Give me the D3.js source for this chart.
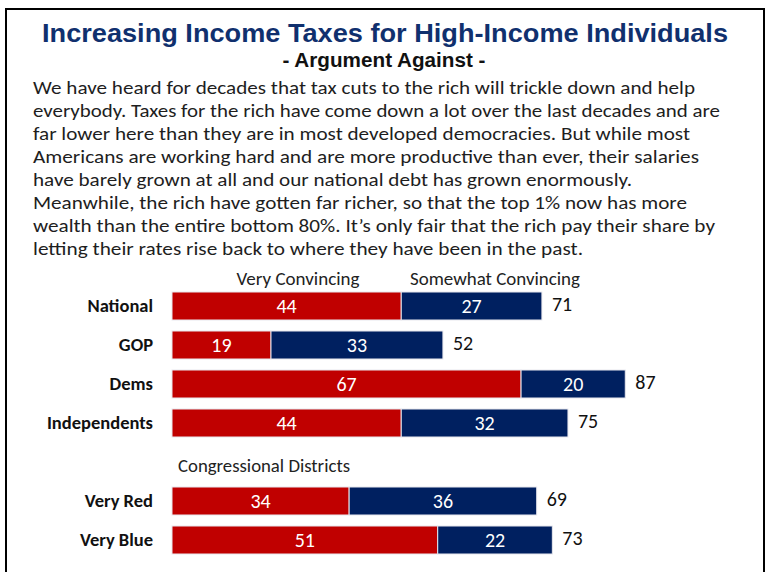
<!DOCTYPE html>
<html>
<head>
<meta charset="utf-8">
<script src="https://cdn.jsdelivr.net/npm/d3@7"></script>
<style>
  html, body { margin: 0; padding: 0; background: #fff; }
  svg { display: block; }
</style>
</head>
<body>
<script>
// Survey results: share finding the argument convincing
const groups = ["National", "GOP", "Dems", "Independents", "Very Red", "Very Blue"];
const veryConvincing = [44, 19, 67, 44, 34, 51];
const somewhatConvincing = [27, 33, 20, 32, 36, 22];
const totals = [71, 52, 87, 75, 69, 73];
const seriesNames = ["Very Convincing", "Somewhat Convincing"];
const sectionLabel = "Congressional Districts";

const titleText = "Increasing Income Taxes for High-Income Individuals";
const subtitleText = "- Argument Against -";
const bodyLines = [
  "We have heard for decades that tax cuts to the rich will trickle down and help",
  "everybody. Taxes for the rich have come down a lot over the last decades and are",
  "far lower here than they are in most developed democracies. But while most",
  "Americans are working hard and are more productive than ever, their salaries",
  "have barely grown at all and our national debt has grown enormously.",
  "Meanwhile, the rich have gotten far richer, so that the top 1% now has more",
  "wealth than the entire bottom 80%. It\u2019s only fair that the rich pay their share by",
  "letting their rates rise back to where they have been in the past."
];
// set width of each body line so the wrapping keeps its slide shape
const bodyLineWidths = [662, 687, 657, 666, 599, 654, 682, 550];

const W = 771, H = 572;
const RED = "#c00000", NAVY = "#002060";
const bodyFont = "Carlito, Calibri, Lato, 'Open Sans', sans-serif";
const titleFont = "'Liberation Sans Narrow', 'Arial Narrow', 'Liberation Sans', Arial, sans-serif";

const svg = d3.select("body").append("svg")
  .attr("width", W).attr("height", H);

// frame
svg.append("rect")
  .attr("x", 6).attr("y", 9).attr("width", 758).attr("height", 600)
  .attr("fill", "none").attr("stroke", "#000").attr("stroke-width", 2);

// title block
svg.append("text")
  .attr("x", 385).attr("y", 42)
  .attr("text-anchor", "middle")
  .attr("font-family", titleFont).attr("font-weight", "bold")
  .attr("font-size", 25).attr("fill", "#10306e")
  .attr("textLength", 686).attr("lengthAdjust", "spacingAndGlyphs")
  .text(titleText);

svg.append("text")
  .attr("x", 384).attr("y", 67)
  .attr("text-anchor", "middle")
  .attr("font-family", titleFont).attr("font-weight", "bold")
  .attr("font-size", 19.5).attr("fill", "#111")
  .attr("textLength", 203).attr("lengthAdjust", "spacingAndGlyphs")
  .text(subtitleText);

// argument text
svg.append("g").selectAll("text")
  .data(bodyLines)
  .join("text")
  .attr("x", 33)
  .attr("y", (d, i) => 94 + i * 23)
  .attr("font-family", bodyFont)
  .attr("font-size", 18.5).attr("fill", "#1e1e1e")
  .attr("textLength", (d, i) => bodyLineWidths[i])
  .attr("lengthAdjust", "spacingAndGlyphs")
  .text(d => d);

// scales
const slots = ["National", "GOP", "Dems", "Independents", "__gap", "Very Red", "Very Blue"];
const y = d3.scalePoint().domain(slots).range([306, 540]);
const x = d3.scaleLinear().domain([0, 100]).range([172, 693]);
const barH = 28;

const rows = groups.map((g, i) => ({
  group: g,
  v1: veryConvincing[i],
  v2: somewhatConvincing[i],
  total: totals[i]
}));

const stack = d3.stack().keys(["v1", "v2"])(rows);
const colors = { v1: RED, v2: NAVY };

const barsG = svg.append("g");
stack.forEach(layer => {
  const lg = barsG.append("g");
  lg.selectAll("rect")
    .data(layer)
    .join("rect")
    .attr("x", d => x(d[0]))
    .attr("y", d => y(d.data.group) - barH / 2)
    .attr("width", d => x(d[1]) - x(d[0]))
    .attr("height", barH)
    .attr("fill", colors[layer.key])
    .attr("stroke", "#e8e8ee").attr("stroke-width", 1);
  lg.selectAll("text")
    .data(layer)
    .join("text")
    .attr("x", d => (x(d[0]) + x(d[1])) / 2)
    .attr("y", d => y(d.data.group) + 7)
    .attr("text-anchor", "middle")
    .attr("font-family", bodyFont).attr("font-size", 20)
    .attr("fill", "#fff")
    .text(d => d.data[layer.key]);
});

// totals at bar ends
svg.append("g").selectAll("text")
  .data(rows)
  .join("text")
  .attr("x", d => x(d.v1 + d.v2) + 10)
  .attr("y", d => y(d.group) + 5)
  .attr("font-family", bodyFont).attr("font-size", 20)
  .attr("fill", "#111")
  .text(d => d.total);

// group labels
svg.append("g").selectAll("text")
  .data(rows)
  .join("text")
  .attr("x", 153)
  .attr("y", d => y(d.group) + 6)
  .attr("text-anchor", "end")
  .attr("font-family", bodyFont).attr("font-weight", "bold")
  .attr("font-size", 18.5).attr("fill", "#111")
  .text(d => d.group);

// series headers above the first bar
const headerX = [298, 495];
const headerW = [123, 170];
svg.append("g").selectAll("text")
  .data(seriesNames)
  .join("text")
  .attr("x", (d, i) => headerX[i])
  .attr("y", 285)
  .attr("text-anchor", "middle")
  .attr("font-family", bodyFont).attr("font-size", 18)
  .attr("fill", "#222")
  .attr("textLength", (d, i) => headerW[i])
  .attr("lengthAdjust", "spacingAndGlyphs")
  .text(d => d);

// section label
svg.append("text")
  .attr("x", 178).attr("y", y("__gap") + 10)
  .attr("font-family", bodyFont).attr("font-size", 17.5)
  .attr("fill", "#222")
  .attr("textLength", 172).attr("lengthAdjust", "spacingAndGlyphs")
  .text(sectionLabel);
</script>
</body>
</html>
